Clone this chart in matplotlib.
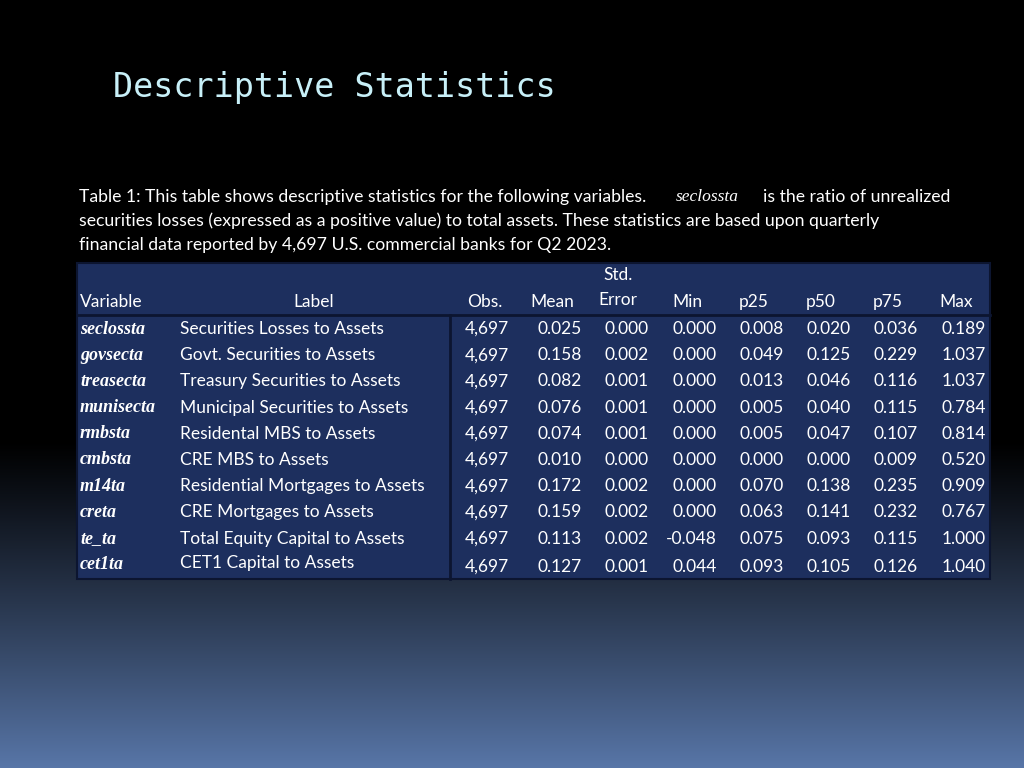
import numpy as np
import matplotlib
matplotlib.use("Agg")
import matplotlib.pyplot as plt
from matplotlib.patches import Rectangle

variables = ["seclossta", "govsecta", "treasecta", "munisecta", "rmbsta", "cmbsta", "m14ta", "creta", "te_ta", "cet1ta"]
labels = ["Securities Losses to Assets", "Govt. Securities to Assets", "Treasury Securities to Assets",
          "Municipal Securities to Assets", "Residental MBS to Assets", "CRE MBS to Assets",
          "Residential Mortgages to Assets", "CRE Mortgages to Assets", "Total Equity Capital to Assets",
          "CET1 Capital to Assets"]
obs = ["4,697"] * 10
mean = [0.025, 0.158, 0.082, 0.076, 0.074, 0.010, 0.172, 0.159, 0.113, 0.127]
stderr = [0.000, 0.002, 0.001, 0.001, 0.001, 0.000, 0.002, 0.002, 0.002, 0.001]
vmin = [0.000, 0.000, 0.000, 0.000, 0.000, 0.000, 0.000, 0.000, -0.048, 0.044]
p25 = [0.008, 0.049, 0.013, 0.005, 0.005, 0.000, 0.070, 0.063, 0.075, 0.093]
p50 = [0.020, 0.125, 0.046, 0.040, 0.047, 0.000, 0.138, 0.141, 0.093, 0.105]
p75 = [0.036, 0.229, 0.116, 0.115, 0.107, 0.009, 0.235, 0.232, 0.115, 0.126]
vmax = [0.189, 1.037, 1.037, 0.784, 0.814, 0.520, 0.909, 0.767, 1.000, 1.040]

fig = plt.figure(figsize=(10.24, 7.68), dpi=100)
ax = fig.add_axes([0, 0, 1, 1])
ax.set_xlim(0, 1024); ax.set_ylim(768, 0); ax.axis("off")

h = 768
g = np.zeros((h, 1, 3))
top = np.array([0, 0, 0]); bot = np.array([88, 118, 168]) / 255
for i in range(h):
    t = max(0, (i - 440) / (h - 440))
    g[i, 0] = top + (bot - top) * t ** 1.1
ax.imshow(g, extent=[0, 1024, 768, 0], aspect="auto", zorder=0)

ax.text(113, 88, "Descriptive Statistics", color="#c8f0f8", fontsize=24,
        family="DejaVu Sans Mono", va="center", ha="left")

fs = 12.7
ax.text(79, 197, "Table 1: This table shows descriptive statistics for the following variables.",
        color="white", fontsize=fs, family="Lato", va="center")
ax.text(676, 197, "seclossta", color="white", fontsize=12.5, family="Liberation Serif", style="italic", va="center")
ax.text(763, 197, "is the ratio of unrealized", color="white", fontsize=fs, family="Lato", va="center")
ax.text(79, 221, "securities losses (expressed as a positive value) to total assets. These statistics are based upon quarterly",
        color="white", fontsize=fs, family="Lato", va="center")
ax.text(79, 245, "financial data reported by 4,697 U.S. commercial banks for Q2 2023.",
        color="white", fontsize=fs, family="Lato", va="center")

x0, x1, y0, y1 = 77, 990, 263, 579
ax.add_patch(Rectangle((x0, y0), x1 - x0, y1 - y0, facecolor="#1d2f5e", edgecolor="#0c1530", lw=1.5, zorder=1))
ax.plot([x0, x1], [315, 315], color="#0c1530", lw=2, zorder=2)
ax.plot([450, 450], [315, y1], color="#0c1530", lw=2, zorder=2)

hfs = 12.5
heads = ["Obs.", "Mean", "Error", "Min", "p25", "p50", "p75", "Max"]
hx = [485, 552, 618, 687, 754, 821, 888, 956]
ax.text(80, 302, "Variable", color="white", fontsize=hfs, family="Lato", va="center")
ax.text(314, 302, "Label", color="white", fontsize=hfs, family="Lato", va="center", ha="center")
for x, s in zip(hx, heads):
    yy = 300 if s == "Error" else 302
    ax.text(x, yy, s, color="white", fontsize=hfs, family="Lato", va="center", ha="center")
ax.text(618, 275, "Std.", color="white", fontsize=hfs, family="Lato", va="center", ha="center")

rowy0, dy = 329, 26.2
for i in range(len(variables)):
    y = rowy0 + i * dy
    ax.text(80, y, variables[i], color="white", fontsize=13, family="Liberation Serif", style="italic",
            va="center", weight="bold")
    ax.text(180, y - (2 if i == 9 else 0), labels[i], color="white", fontsize=hfs, family="Lato", va="center")
    vals = [obs[i]] + [f"{v:.3f}" for v in (mean[i], stderr[i], vmin[i], p25[i], p50[i], p75[i], vmax[i])]
    for x, s in zip([509, 582, 649, 717, 784, 851, 918, 986], vals):
        ax.text(x, y + (2 if i == 9 else 0), s, color="white", fontsize=hfs, family="Lato", va="center", ha="right")

fig.savefig("out.png", dpi=100)
